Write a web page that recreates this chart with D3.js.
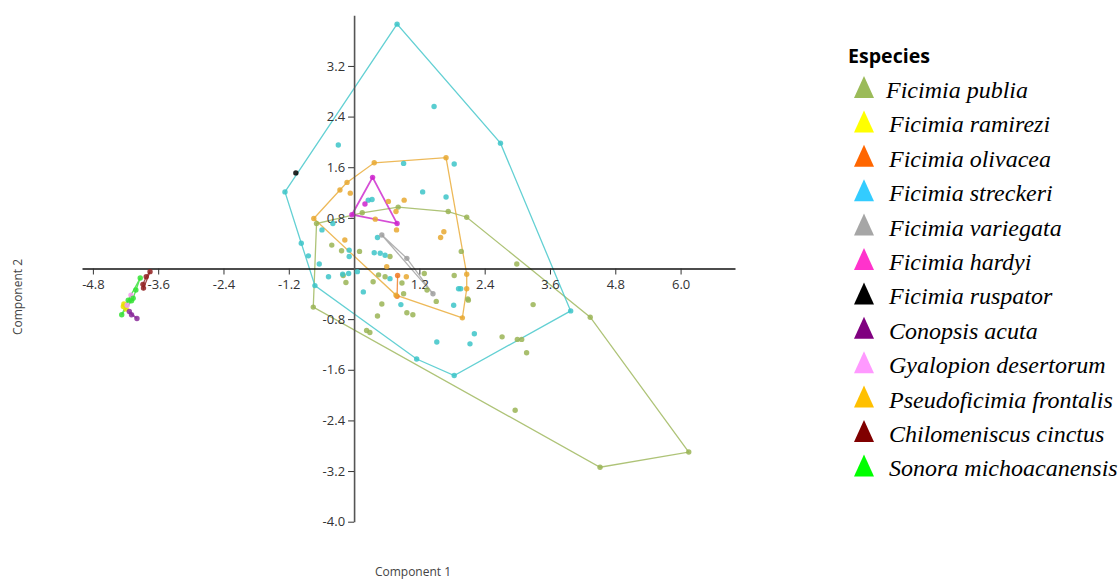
<!DOCTYPE html>
<html>
<head>
<meta charset="utf-8">
<script src="https://cdn.jsdelivr.net/npm/d3@7"></script>
<style>
  body { margin: 0; background: #fff; }
  svg { display: block; }
</style>
</head>
<body>
<div id="chart"></div>
<script>
// species in legend order
const species = ["Ficimia publia", "Ficimia ramirezi", "Ficimia olivacea", "Ficimia streckeri",
  "Ficimia variegata", "Ficimia hardyi", "Ficimia ruspator", "Conopsis acuta",
  "Gyalopion desertorum", "Pseudoficimia frontalis", "Chilomeniscus cinctus", "Sonora michoacanensis"];

const xTicks = [-4.8, -3.6, -2.4, -1.2, 1.2, 2.4, 3.6, 4.8, 6.0];
const yTicks = [3.2, 2.4, 1.6, 0.8, -0.8, -1.6, -2.4, -3.2, -4.0];

// [component 1, component 2] per specimen
const publia = [[-0.69,0.71],[0.15,0.88],[0.81,0.97],[1.73,0.90],[2.07,0.81],[2.99,0.07],[4.34,-0.77],
  [6.15,-2.90],[4.52,-3.14],[-0.75,-0.61],[-0.41,0.37],[-0.23,0.28],[0.10,0.27],[0.66,0.19],[1.97,0.27],
  [0.45,-0.10],[0.57,-0.13],[1.29,-0.08],[0.88,-0.23],[1.34,-0.34],[2.10,-0.50],[-0.15,-0.22],[-0.20,-0.11],
  [0.35,-0.21],[0.91,-0.40],[0.51,-0.56],[0.97,-0.70],[1.08,-0.73],[0.43,-0.75],[0.23,-0.98],[0.29,-1.01],
  [1.84,-0.11],[1.51,-0.52],[2.09,-0.48],[3.29,-0.57],[2.72,-1.08],[3.00,-1.12],[3.08,-1.12],[3.17,-1.33],
  [2.96,-2.24]];
const ramirezi = [[-4.24,-0.60],[-4.19,-0.64],[-4.23,-0.56]];
const olivacea = [[0.80,-0.11],[0.79,-0.44]];
const streckeri = [[0.79,3.86],[2.69,1.98],[3.98,-0.67],[1.84,-1.69],[1.15,-1.43],[-0.72,-0.27],[-1.27,1.21],
  [-0.29,1.95],[1.47,2.56],[0.91,1.66],[1.84,1.65],[1.26,1.21],[1.69,1.13],[0.26,1.08],[0.33,1.09],
  [-0.39,0.71],[-0.59,0.61],[0.43,0.49],[-0.97,0.40],[-0.84,0.20],[-0.09,0.29],[0.37,0.25],[0.48,0.24],
  [0.57,0.21],[-0.09,0.19],[-0.64,0.07],[0.06,-0.05],[-0.10,-0.08],[-0.21,-0.09],[-0.47,-0.13],[0.66,-0.16],
  [0.17,-0.37],[0.86,-0.57],[1.92,-0.32],[1.96,-0.32],[1.83,-0.58],[2.21,-1.03],[2.13,-1.19],[1.52,-1.16]];
const variegata = [[0.51,0.53],[0.97,0.16],[1.45,-0.40]];
const hardyi = [[0.34,1.44],[-0.04,0.85],[0.79,0.71],[0.20,1.02]];
const ruspator = [[-1.07,1.51]];
const conopsis = [[-4.13,-0.68],[-4.09,-0.73],[-3.99,-0.79]];
const gyalopion = [[-4.10,-0.42],[-4.17,-0.58]];
const frontalis = [[0.37,1.67],[1.69,1.75],[2.07,-0.09],[2.07,-0.32],[1.99,-0.78],[0.77,-0.42],[-0.74,0.79],
  [-0.26,1.24],[-0.13,1.36],[-0.07,1.19],[0.39,0.78],[0.78,0.61],[-0.17,0.45],[1.65,0.58],[1.59,0.49],
  [0.92,1.08],[0.63,1.06],[0.77,0.90],[0.60,0.03],[0.96,-0.13]];
const cinctus = [[-3.75,-0.05],[-3.82,-0.13],[-3.88,-0.25],[-3.87,-0.31]];
const sonora = [[-3.93,-0.15],[-4.01,-0.34],[-4.06,-0.47],[-4.09,-0.51],[-4.27,-0.73],[-4.15,-0.50]];

const groups = [publia, ramirezi, olivacea, streckeri, variegata, hardyi, ruspator,
  conopsis, gyalopion, frontalis, cinctus, sonora];

const legendColor = d3.scaleOrdinal().domain(species)
  .range(["#9bbb59","#ffff00","#ff6600","#33ccff","#a6a6a6","#ff33cc","#000000",
          "#800080","#ff99ff","#ffc000","#800000","#00ff00"]);
const markColor = d3.scaleOrdinal().domain(species)
  .range(["#9ab455","#e8e000","#f07820","#3cc4c8","#9e9e9e","#cc22cc","#000000",
          "#8a2a9a","#f59af0","#e8a830","#902020","#33e033"]);

const W = 1120, H = 580;
const svg = d3.select("#chart").append("svg").attr("width", W).attr("height", H);

const x = d3.scaleLinear().domain([-5, 7]).range([82, 735]);
const y = d3.scaleLinear().domain([-4, 4]).range([521.7, 15.3]);

const fmt = d => d.toFixed(1);

// hulls
const plot = svg.append("g");
groups.forEach((pts, i) => {
  const sp = species[i];
  const px = pts.map(p => [x(p[0]), y(p[1])]);
  let shape = null;
  if (px.length >= 3) shape = d3.polygonHull(px);
  else if (px.length == 2) shape = px;
  if (shape) {
    plot.append("path")
      .attr("d", (px.length >= 3 ? "M" + shape.join("L") + "Z" : "M" + shape.join("L")))
      .attr("fill", "none")
      .attr("stroke", markColor(sp))
      .attr("stroke-opacity", 0.8)
      .attr("stroke-width", sp == "Ficimia hardyi" ? 1.8 : 1.3);
  }
});

// axes through the origin
const xAxis = d3.axisBottom(x).tickValues(xTicks).tickFormat(fmt).tickSize(6).tickSizeOuter(0);
const yAxis = d3.axisLeft(y).tickValues(yTicks).tickFormat(fmt).tickSize(6).tickSizeOuter(0);

const gx = svg.append("g").attr("transform", "translate(0," + y(0) + ")").call(xAxis);
gx.select(".domain").attr("stroke", "#111").attr("stroke-width", 1.6);
gx.selectAll(".tick line").attr("stroke", "#333");
gx.selectAll("text").attr("font-family", "Open Sans, sans-serif").attr("font-size", 13)
  .attr("fill", "#333").attr("dy", "0.9em");

const gy = svg.append("g").attr("transform", "translate(" + x(0) + ",0)").call(yAxis);
gy.select(".domain").attr("stroke", "#555").attr("stroke-width", 1.6);
gy.selectAll(".tick line").attr("stroke", "#333");
gy.selectAll("text").attr("font-family", "Open Sans, sans-serif").attr("font-size", 13)
  .attr("fill", "#333");

// points
groups.forEach((pts, i) => {
  const sp = species[i];
  svg.append("g").selectAll("circle")
    .data(pts)
    .enter().append("circle")
    .attr("cx", d => x(d[0]))
    .attr("cy", d => y(d[1]))
    .attr("r", 2.7)
    .attr("fill", markColor(sp))
    .attr("fill-opacity", 0.85);
});

svg.append("text").attr("x", 413).attr("y", 576).attr("text-anchor", "middle")
  .attr("font-family", "Open Sans, sans-serif").attr("font-size", 12).attr("fill", "#444")
  .text("Component 1");
svg.append("text").attr("transform", "translate(22,297) rotate(-90)").attr("text-anchor", "middle")
  .attr("font-family", "Open Sans, sans-serif").attr("font-size", 12).attr("fill", "#444")
  .text("Component 2");

// legend
const legend = svg.append("g");
legend.append("text").attr("x", 848).attr("y", 63)
  .attr("font-family", "Open Sans, sans-serif").attr("font-weight", "bold").attr("font-size", 19)
  .attr("textLength", 82).attr("lengthAdjust", "spacingAndGlyphs")
  .text("Especies");

const item = legend.selectAll(".item")
  .data(species)
  .enter().append("g")
  .attr("class", "item")
  .attr("transform", (d, i) => "translate(0," + (98 + i * 34.4) + ")");

item.append("path")
  .attr("d", "M854,0L874,0L864,-22Z")
  .attr("fill", d => legendColor(d));

item.append("text")
  .attr("x", (d, i) => i == 0 ? 886 : 889)
  .attr("y", 0)
  .attr("font-family", "Liberation Serif, Times New Roman, serif")
  .attr("font-style", "italic")
  .attr("font-size", 24)
  .text(d => d);
</script>
</body>
</html>
